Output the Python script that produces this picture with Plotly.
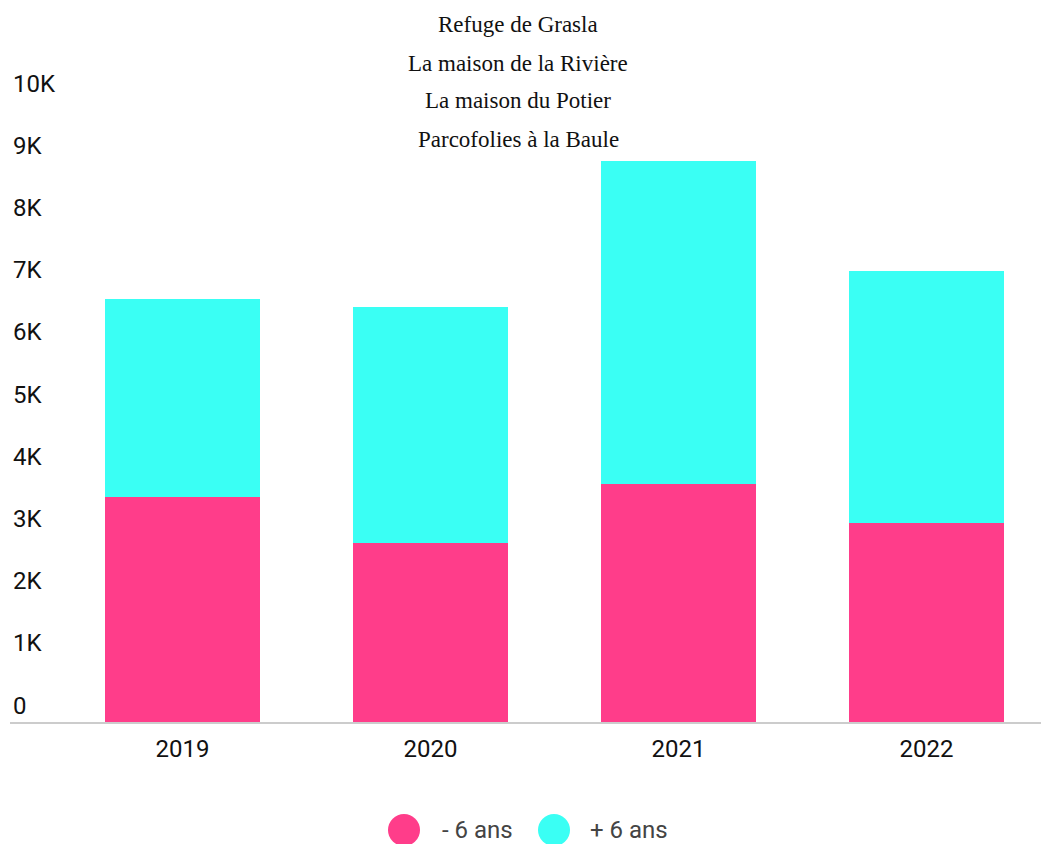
import plotly.graph_objects as go

years = ["2019", "2020", "2021", "2022"]
moins_6 = [3620, 2870, 3820, 3200]
plus_6 = [3180, 3800, 5200, 4050]
series_names = ["- 6 ans", "+ 6 ans"]
colors = ["#ff3d8a", "#3afff4"]
y_ticks = [0, 1000, 2000, 3000, 4000, 5000, 6000, 7000, 8000, 9000, 10000]
y_labels = ["0", "1K", "2K", "3K", "4K", "5K", "6K", "7K", "8K", "9K", "10K"]
title_lines = ["Refuge de Grasla", "La maison de la Rivière",
               "La maison du Potier", "Parcofolies à la Baule"]

fig = go.Figure()
for name, vals, col in zip(series_names, [moins_6, plus_6], colors):
    fig.add_trace(go.Bar(x=years, y=vals, name=name, marker_color=col,
                         marker_line_width=0, showlegend=False))

OFF = 8  # page body margin
W, H = 1049 - OFF, 844 - OFF
L, R, T, B = 10 - OFF, 0, 100 - OFF, 122
pw = W - L - R
ph = H - T - B

def px_x(px):
    return (px - OFF - L) / pw

def px_y(py):
    return (H - B - (py - OFF)) / ph

# title lines
for i, line in enumerate(title_lines):
    fig.add_annotation(text=line, xref="paper", yref="paper",
                       x=px_x(518), y=px_y(25 + 38 * i), xanchor="center",
                       yanchor="middle", showarrow=False,
                       font=dict(family="Liberation Serif", size=23, color="#111"))

# legend (manual, large circles)
leg_items = [(404, 440), (554, 588)]
for (cx, tx), name, col in zip(leg_items, series_names, colors):
    fig.add_shape(type="circle", xref="paper", yref="paper",
                  xsizemode="pixel", ysizemode="pixel",
                  xanchor=px_x(cx), yanchor=px_y(830),
                  x0=-16, x1=16, y0=-16, y1=16,
                  fillcolor=col, line_width=0)
    fig.add_annotation(text=name, xref="paper", yref="paper",
                       x=px_x(tx), y=px_y(830), xanchor="left", yanchor="middle",
                       showarrow=False,
                       font=dict(family="Roboto", size=24, color="#444"))

fig.update_layout(
    barmode="stack",
    bargap=0.375,
    width=W, height=H,
    margin=dict(l=L, r=R, t=T, b=B, pad=0),
    paper_bgcolor="white", plot_bgcolor="white",
    showlegend=False,
    font=dict(family="Roboto", size=24, color="#111"),
)
fig.update_xaxes(range=[-0.696, 3.494], showgrid=False, showline=True,
                 linecolor="#cccccc", linewidth=2, ticks="",
                 ticklabelstandoff=4,
                 tickfont=dict(family="Roboto", size=24, color="#111"))
fig.update_yaxes(range=[0, 10000], tickvals=y_ticks, ticktext=y_labels,
                 showgrid=False, zeroline=False, showline=False, ticks="",
                 ticklabelposition="inside top", ticklabeloverflow="allow",
                 tickfont=dict(family="Roboto", size=24, color="#111"))

fig.write_html("out.html")
